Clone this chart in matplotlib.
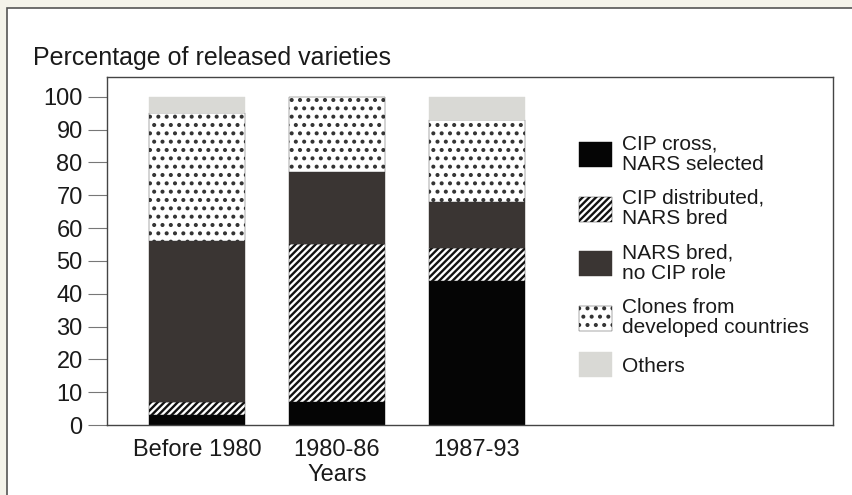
import matplotlib
matplotlib.use("Agg")
import matplotlib.pyplot as plt
from matplotlib.patches import Rectangle, Patch
from matplotlib.transforms import blended_transform_factory
import numpy as np

plt.rcParams['font.family'] = ['Liberation Sans', 'DejaVu Sans']
plt.rcParams['hatch.linewidth'] = 1.7

periods = ["Before 1980", "1980-86", "1987-93"]
series = [
    "CIP cross,\nNARS selected",
    "CIP distributed,\nNARS bred",
    "NARS bred,\nno CIP role",
    "Clones from\ndeveloped countries",
    "Others",
]
cip_cross = [3, 7, 44]
cip_distributed = [4, 48, 10]
nars_bred = [49, 22, 14]
clones = [39, 23, 25]
others = [5, 0, 7]
values = [cip_cross, cip_distributed, nars_bred, clones, others]
yticks = list(range(0, 101, 10))

styles = [
    dict(facecolor="#050505", hatch=None, edgecolor="#050505"),
    dict(facecolor="white", hatch="/////", edgecolor="#111111"),
    dict(facecolor="#3a3533", hatch=None, edgecolor="#3a3533"),
    dict(facecolor="white", hatch="..", edgecolor="#333333"),
    dict(facecolor="#d9d9d5", hatch=None, edgecolor="#d9d9d5"),
]

fig = plt.figure(figsize=(8.53, 4.95), dpi=100, facecolor="#f4f3ea")
# white page panel behind everything
page = Rectangle((7 / 853, -0.05), 1.0, 1 - 8 / 495 + 0.05,
                 transform=fig.transFigure, facecolor="white",
                 edgecolor="#555555", linewidth=1.2, zorder=-10)
fig.add_artist(page)

ax = fig.add_axes([107 / 853, 1 - 425 / 495, 726 / 853, 348 / 495])
ax.set_facecolor("white")

x = np.arange(len(periods))
bottom = np.zeros(len(periods))
for vals, st in zip(values, styles):
    ax.bar(x, vals, width=0.69, bottom=bottom, facecolor=st["facecolor"],
           edgecolor=st["edgecolor"], hatch=st["hatch"], linewidth=0.3)
    bottom += np.array(vals)

ax.set_xlim(-0.643, 4.543)
ax.set_ylim(0, 106)
ax.set_yticks(yticks)
ax.tick_params(axis="y", direction="out", length=13.5, width=0.8,
               color="#777777", pad=4, labelsize=17, labelcolor="#1a1a1a")
ax.set_xticks(x)
ax.set_xticklabels(periods)
ax.tick_params(axis="x", length=0, pad=10, labelsize=17, labelcolor="#1a1a1a")
for s in ax.spines.values():
    s.set_color("#444444")
    s.set_linewidth(1.0)

trans = blended_transform_factory(ax.transData, ax.transAxes)
ax.text(1, -0.112, "Years", transform=trans, ha="center", va="top",
        fontsize=17, color="#1a1a1a")

fig.text(33 / 853, 1 - 58 / 495, "Percentage of released varieties",
         ha="left", va="center", fontsize=18, color="#1a1a1a")

handles = [Patch(facecolor=st["facecolor"], edgecolor=st["edgecolor"],
                 hatch=st["hatch"], linewidth=0.3) for st in styles]
ax.legend(handles, series, loc="upper left", bbox_to_anchor=(0.650, 0.835),
          frameon=False, fontsize=15, handlelength=1.6, handleheight=1.45,
          handletextpad=0.48, labelspacing=0.72, borderpad=0, borderaxespad=0,
          labelcolor="#1a1a1a")
for t in ax.get_legend().get_texts():
    t.set_linespacing(1.1)

fig.savefig("out.png", dpi=100, facecolor=fig.get_facecolor())
